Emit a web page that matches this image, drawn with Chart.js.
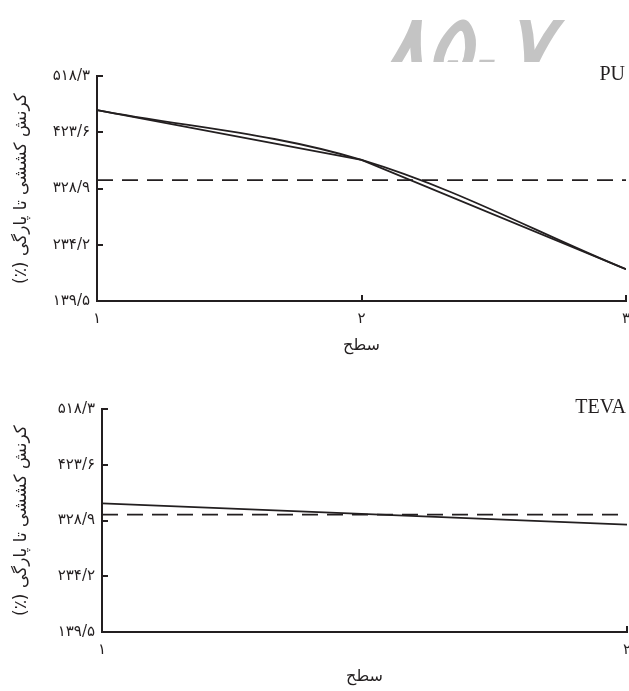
<!DOCTYPE html>
<html>
<head>
<meta charset="utf-8">
<script src="https://cdn.jsdelivr.net/npm/chart.js@4.4.1/dist/chart.umd.min.js"></script>
<style>
  html, body { margin: 0; padding: 0; background: #fff; }
  #wrap { position: relative; width: 629px; height: 691px; overflow: hidden; }
  canvas { position: absolute; left: 0; }
</style>
</head>
<body>
<div id="wrap">
  <canvas id="chartPU" width="629" height="360" style="top:0"></canvas>
  <canvas id="chartTEVA" width="629" height="331" style="top:360px"></canvas>
</div>
<script>
// data
let levelsPU = [1, 2, 3];
let strainPU_linear = [461, 377, 193];
let strainPU_smooth = [461, 377, 193];
let thresholdPU = 343;

let levelsTEVA = [1, 2];
let strainTEVA = [358, 322];
let thresholdTEVA = 339;

let yTicks = [139.5, 234.2, 328.9, 423.6, 518.3];
// RLM marks keep the bracket at the end of the right-to-left line
let yTitle = '\u200Fکرنش کششی تا پارگی (٪)\u200F';
let xTitle = 'سطح';

let ink = '#231f20';
let faDigits = '۰۱۲۳۴۵۶۷۸۹';
function toFa(s) {
  return String(s).replace(/[0-9]/g, d => faDigits[+d]).replace('.', '/');
}
function pts(xs, ys) { return xs.map((x, i) => ({x: x, y: ys[i]})); }

// inward tick marks + panel label
let innerTicks = {
  id: 'innerTicks',
  afterDraw(chart, args, opts) {
    let {ctx, chartArea: a, scales: {x, y}} = chart;
    ctx.save();
    ctx.strokeStyle = ink;
    ctx.lineWidth = 2;
    ctx.beginPath();
    y.ticks.forEach(t => {
      let py = Math.round(y.getPixelForValue(t.value));
      ctx.moveTo(a.left, py); ctx.lineTo(a.left + 6, py);
    });
    x.ticks.forEach(t => {
      let px = Math.round(x.getPixelForValue(t.value));
      if (px - a.left < 3) return;
      ctx.moveTo(px, a.bottom); ctx.lineTo(px, a.bottom - 6);
    });
    ctx.stroke();
    ctx.fillStyle = ink;
    ctx.font = '20px "Liberation Serif"';
    ctx.textAlign = 'right';
    ctx.textBaseline = 'alphabetic';
    ctx.fillText(opts.label, a.right - 1, a.top + 4);
    ctx.restore();
  }
};

let watermark = {
  id: 'watermark',
  beforeDraw(chart) {
    let ctx = chart.ctx;
    ctx.save();
    ctx.beginPath();
    ctx.rect(0, 0, chart.width, 62);
    ctx.clip();
    ctx.fillStyle = '#c4c4c4';
    ctx.font = 'italic bold 86px "DejaVu Sans"';
    ctx.textAlign = 'left';
    ctx.textBaseline = 'alphabetic';
    ctx.fillText('۸۵.۷', 380, 76);
    ctx.restore();
  }
};

function makeOptions(xMax, axisWidth, pad, label) {
  return {
    responsive: false,
    animation: false,
    layout: { padding: pad },
    plugins: {
      legend: { display: false },
      tooltip: { enabled: false },
      innerTicks: { label: label }
    },
    scales: {
      x: {
        type: 'linear',
        min: 1,
        max: xMax,
        grid: { drawOnChartArea: false, drawTicks: false },
        border: { display: true, color: ink, width: 2 },
        ticks: {
          stepSize: 1,
          padding: 9,
          color: ink,
          font: { family: 'DejaVu Sans', size: 15 },
          maxRotation: 0,
          callback: v => toFa(v)
        },
        title: {
          display: true,
          text: xTitle,
          color: ink,
          font: { family: 'DejaVu Sans', size: 16 },
          padding: { top: 0, bottom: 5 }
        },
        afterFit: s => { s.height = 59; s.paddingLeft = 0; s.paddingRight = 0; }
      },
      y: {
        min: yTicks[0],
        max: yTicks[yTicks.length - 1],
        grid: { drawOnChartArea: false, drawTicks: false },
        border: { display: true, color: ink, width: 2 },
        afterBuildTicks: s => { s.ticks = yTicks.map(v => ({value: v})); },
        ticks: {
          padding: 7,
          color: ink,
          font: { family: 'DejaVu Sans', size: 15 },
          callback: v => toFa(v.toFixed(1))
        },
        title: {
          display: true,
          text: yTitle,
          color: ink,
          font: { family: 'DejaVu Sans', size: 17 },
          padding: { top: 11, bottom: 0 }
        },
        afterFit: s => { s.width = axisWidth; s.paddingTop = 0; s.paddingBottom = 0; }
      }
    }
  };
}

let lineStyle = { borderColor: ink, borderWidth: 1.8, pointRadius: 0, fill: false };

new Chart(document.getElementById('chartPU').getContext('2d'), {
  type: 'line',
  data: {
    datasets: [
      Object.assign({ label: 'PU', data: pts(levelsPU, strainPU_linear), tension: 0 }, lineStyle),
      Object.assign({ label: 'PU smooth', data: pts(levelsPU, strainPU_smooth), tension: 0.35 }, lineStyle),
      Object.assign({ label: 'threshold', data: pts([1, 3], [thresholdPU, thresholdPU]) }, lineStyle, { borderDash: [16, 9] })
    ]
  },
  options: makeOptions(3, 97, { top: 76, right: 3, left: 0, bottom: 0 }, 'PU'),
  plugins: [watermark, innerTicks]
});

new Chart(document.getElementById('chartTEVA').getContext('2d'), {
  type: 'line',
  data: {
    datasets: [
      Object.assign({ label: 'TEVA', data: pts(levelsTEVA, strainTEVA), tension: 0 }, lineStyle),
      Object.assign({ label: 'threshold', data: pts([1, 2], [thresholdTEVA, thresholdTEVA]) }, lineStyle, { borderDash: [16, 9] })
    ]
  },
  options: makeOptions(2, 102, { top: 49, right: 2, left: 0, bottom: 0 }, 'TEVA'),
  plugins: [innerTicks]
});
</script>
</body>
</html>
